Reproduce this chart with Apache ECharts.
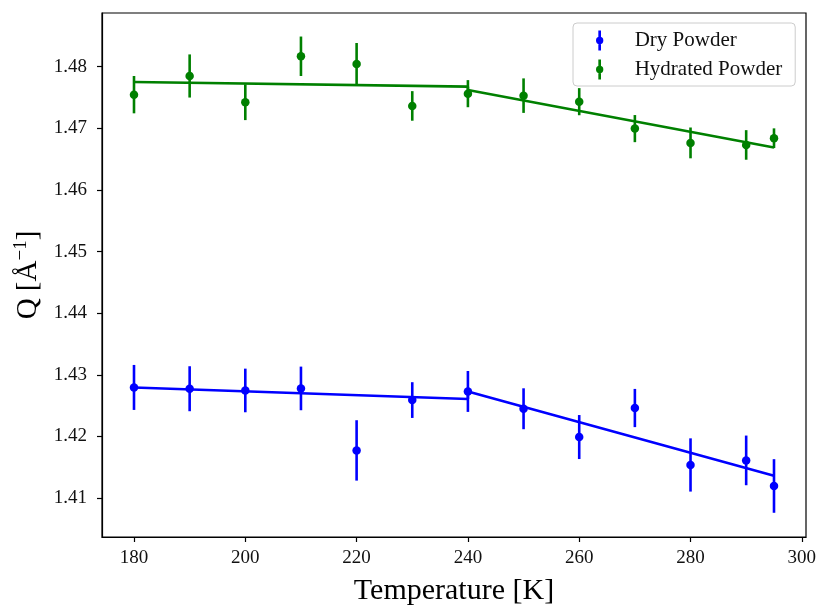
<!DOCTYPE html>
<html><head><meta charset="utf-8">
<script src="https://cdn.jsdelivr.net/npm/echarts@6/dist/echarts.min.js"></script>
<style>html,body{margin:0;padding:0;background:#fff}#c{width:819px;height:607px}</style>
</head><body><div id="c"></div>
<script>
const temps = [180,190,200,210,220,230,240,250,260,270,280,290,295];
const dryQ = [1.42795,1.42774,1.42746,1.42779,1.41773,1.42590,1.42730,1.42449,1.41990,1.42461,1.41537,1.41611,1.41196];
const dryErr = [0.00365,0.00365,0.00354,0.00354,0.0049,0.0029,0.00332,0.00332,0.00357,0.0031,0.00432,0.00403,0.00435];
const hydQ = [1.47546,1.47849,1.47423,1.48169,1.48044,1.47363,1.47562,1.47530,1.47432,1.46995,1.46763,1.46730,1.46839];
const hydErr = [0.00303,0.0035,0.0029,0.0032,0.0034,0.0024,0.0022,0.0028,0.0022,0.0022,0.0025,0.0024,0.0016];
const fitT = [180,240,240,295];
const dryFit = [1.42795,1.42607,1.42730,1.41363];
const hydFit = [1.47752,1.47676,1.47622,1.46687];
const xTicks = [180,200,220,240,260,280,300];
const yTicks = [1.41,1.42,1.43,1.44,1.45,1.46,1.47,1.48];

const FONT = '"Liberation Serif","DejaVu Serif",serif';
const BLUE = '#0000ff', GREEN = '#008000';
const iconPath = 'path://M3.4,0 L6.6,0 L6.6,24 L3.4,24 Z M0.6,12 A4.4,4.4 0 1,1 9.4,12 A4.4,4.4 0 1,1 0.6,12 Z';

function errSeries(name, vals, errs, color) {
  return {
    type: 'custom', name: name + ' err', silent: true, z: 3,
    data: temps.map((t, i) => [t, vals[i] - errs[i], vals[i] + errs[i]]),
    renderItem: function (params, api) {
      const p1 = api.coord([api.value(0), api.value(1)]);
      const p2 = api.coord([api.value(0), api.value(2)]);
      return { type: 'line', shape: {x1: p1[0], y1: p1[1], x2: p2[0], y2: p2[1]},
               style: {stroke: color, lineWidth: 2.6} };
    }
  };
}

const chart = echarts.init(document.getElementById('c'), null, {renderer: 'canvas'});
chart.setOption({
  animation: false,
  backgroundColor: '#fff',
  grid: {left: 102, right: 13, top: 13, bottom: 70, show: true, borderColor: '#000', borderWidth: 1.2,
         containLabel: false, outerBoundsMode: 'none'},
  xAxis: {
    type: 'value', min: 174.25, max: 300.75,
    name: 'Temperature [K]', nameLocation: 'middle', nameGap: 39,
    nameTextStyle: {fontFamily: FONT, fontSize: 30, color: '#000'},
    axisLine: {show: true, onZero: false, lineStyle: {color: '#000', width: 1.2}},
    axisTick: {show: true, length: 5, customValues: xTicks, lineStyle: {color: '#000', width: 1.2}},
    axisLabel: {customValues: xTicks, fontFamily: FONT, fontSize: 19, color: '#111', margin: 12},
    splitLine: {show: false}
  },
  yAxis: {
    type: 'value', min: 1.40368, max: 1.48871,
    name: '{a|Q [Å}{s|−1}{a|]}', nameLocation: 'middle', nameGap: 55, nameRotate: 90,
    nameTextStyle: {fontFamily: FONT, fontSize: 29, color: '#000',
      rich: {a: {fontFamily: FONT, fontSize: 29, color: '#000'},
             s: {fontFamily: FONT, fontSize: 19, color: '#000', verticalAlign: 'top', padding: [0,0,14,0]}}},
    axisLine: {show: true, onZero: false, lineStyle: {color: '#000', width: 1.2}},
    axisTick: {show: true, length: 5, customValues: yTicks, lineStyle: {color: '#000', width: 1.2}},
    axisLabel: {customValues: yTicks, fontFamily: FONT, fontSize: 19, color: '#111', margin: 15,
      formatter: v => v.toFixed(2)},
    splitLine: {show: false}
  },
  legend: {
    orient: 'vertical', left: 573, top: 23,
    padding: [7, 13, 6, 23], itemGap: 8, itemWidth: 10, itemHeight: 20,
    backgroundColor: 'rgba(255,255,255,0.8)', borderColor: '#ccc', borderWidth: 1, borderRadius: 4,
    textStyle: {fontFamily: FONT, fontSize: 21, color: '#111', padding: [0, 0, 0, 25]},
    data: [{name: 'Dry Powder', icon: iconPath}, {name: 'Hydrated Powder', icon: iconPath}]
  },
  series: [
    errSeries('Dry Powder', dryQ, dryErr, BLUE),
    {type: 'scatter', name: 'Dry Powder', data: temps.map((t, i) => [t, dryQ[i]]),
     symbol: 'circle', symbolSize: 8.5, itemStyle: {color: BLUE, opacity: 1}, z: 4},
    errSeries('Hydrated Powder', hydQ, hydErr, GREEN),
    {type: 'scatter', name: 'Hydrated Powder', data: temps.map((t, i) => [t, hydQ[i]]),
     symbol: 'circle', symbolSize: 8.5, itemStyle: {color: GREEN, opacity: 1}, z: 4},
    {type: 'line', name: 'dry fit', data: fitT.map((t, i) => [t, dryFit[i]]),
     showSymbol: false, lineStyle: {color: BLUE, width: 2.6}, z: 5, silent: true},
    {type: 'line', name: 'hyd fit', data: fitT.map((t, i) => [t, hydFit[i]]),
     showSymbol: false, lineStyle: {color: GREEN, width: 2.6}, z: 5, silent: true}
  ]
});
</script>
</body></html>
